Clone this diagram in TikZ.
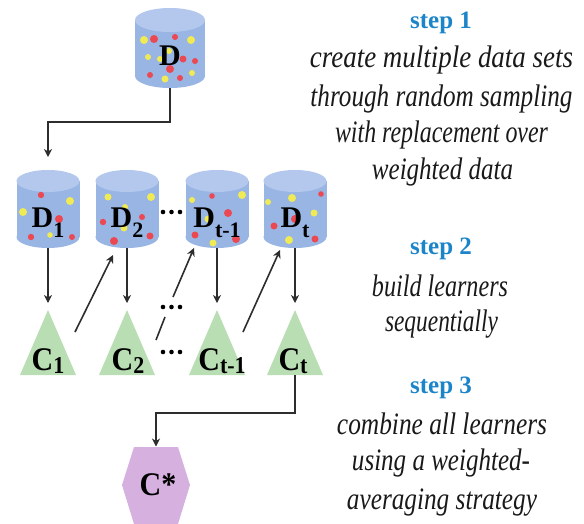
\documentclass[tikz,border=0pt]{standalone}
\usepackage{fontspec}
\setmainfont{Liberation Serif}
\usetikzlibrary{arrows.meta}

\definecolor{cylbody}{RGB}{152,181,228}
\definecolor{cyltop}{RGB}{180,200,237}
\definecolor{dotred}{RGB}{236,72,82}
\definecolor{dotyel}{RGB}{240,234,84}
\definecolor{learnerfill}{RGB}{186,222,180}
\definecolor{combofill}{RGB}{214,177,223}
\definecolor{stepblue}{RGB}{28,132,200}
\definecolor{wire}{RGB}{45,45,45}

\tikzset{
  flow/.style={draw=wire, line width=1.6pt, -{Stealth[length=8pt,width=8pt,inset=2.5pt]}},
  plainwire/.style={draw=wire, line width=1.6pt},
  anchorbox/.style={inner sep=0pt, outer sep=0pt, draw=none},
  dlabel/.style={anchor=base, inner sep=0pt, font=\fontsize{30}{30}\selectfont\bfseries},
  clabel/.style={anchor=base, inner sep=0pt, font=\fontsize{30}{30}\selectfont\bfseries},
  steptitle/.style={anchor=base, inner sep=0pt, text=stepblue, font=\fontsize{25}{25}\selectfont\bfseries},
  stepnote/.style={anchor=base, inner sep=0pt, text=black!90, font=\fontsize{26}{26}\selectfont\itshape},
}

\newcommand{\subD}[1]{\raisebox{-10pt}{\fontsize{22}{22}\selectfont #1}}
\newcommand{\subC}[1]{\raisebox{-3pt}{\fontsize{22}{22}\selectfont #1}}
% a line of description text set to a given width, drawn a little taller
\newcommand{\noteline}[2]{\scalebox{1}[1.2]{\resizebox{#1}{\height}{#2}}}
\newcommand{\tallC}[1]{\scalebox{1}[1.1]{#1}}

% data cylinder: name, centre x, top y, bottom y, x radius, y radius
\newcommand{\datacyl}[6]{%
  \fill[cylbody] ({#2-#5},{#3+#6}) rectangle ({#2+#5},{#4-#6});
  \fill[cylbody] (#2,{#4-#6}) ellipse [x radius=#5pt, y radius=#6pt];
  \fill[cyltop] (#2,{#3+#6}) ellipse [x radius=#5pt, y radius=#6pt];
  \node[anchorbox, minimum width={2*#5pt}, minimum height={(#4-#3)*1pt}] (#1) at (#2,{(#3+#4)/2}) {};
}

% learner triangle: name, centre x
\newcommand{\learnertri}[2]{%
  \fill[learnerfill] ({#2-28},375) -- (#2,310) -- ({#2+28},375) -- cycle;
  \coordinate (#1) at (#2,310);
  \coordinate (#1base) at (#2,375);
}

% coloured sample points: colour, list of x/y/radius
\newcommand{\speckles}[2]{%
  \foreach \px/\py/\pr in {#2} \fill[#1] (\px,\py) circle[radius=\pr];
}

% row of three ellipsis dots centred at a given y
\newcommand{\ellipsisrow}[1]{%
  \foreach \px in {163,171.5,180} \fill[black] (\px,#1) circle[radius=2.3pt];
}

\begin{document}
\begin{tikzpicture}[x=1pt, y=-1pt]
\useasboundingbox (0,0) rectangle (584,523);

% ---- data sets ----
\datacyl{d0}{170}{8}{88}{35}{12}
\datacyl{d1}{48}{170}{248}{31.5}{11}
\datacyl{d2}{127}{170}{248}{31.5}{11}
\datacyl{d3}{217}{170}{248}{31.5}{11}
\datacyl{d4}{295}{170}{248}{31.5}{11}

\speckles{dotyel}{144/40/4pt, 191/40/4pt, 148/57/3pt, 160/59/3pt, 169/51/3pt, 165/79/3.5pt, 192/73/3pt}
\speckles{dotred}{154/39/4pt, 175/37/3pt, 183/59/3.5pt, 195/61/3pt, 170/69/4pt, 150/75/3pt, 180/78/3pt}

\speckles{dotyel}{70/201/4pt, 23/212/4pt, 50/235/2.8pt}
\speckles{dotred}{41/195/3.2pt, 59/219/4pt, 31/237/3.2pt, 72/237/3pt}

\speckles{dotyel}{108/197/3.5pt, 151/197/4pt, 125/207/3pt, 124/228/3.5pt}
\speckles{dotred}{142/217/3pt, 103/222/3.2pt, 150/236/3.5pt, 114/241/4pt}

\speckles{dotyel}{192/200/3pt, 242/195/4pt, 208/219/3.5pt, 213/243/3.5pt}
\speckles{dotred}{212/196/2.8pt, 228/213/4pt, 195/235/3.5pt, 236/239/4pt}

\speckles{dotyel}{292/198/4pt, 268/202/3pt, 314/213/3.5pt, 289/240/4pt}
\speckles{dotred}{321/194/2.8pt, 295/219/4pt, 274/226/3.5pt, 315/239/3.5pt}

\node[dlabel] (d0lab) at (170,65) {D};
\node[dlabel] (d1lab) at (48,227) {D\subD{1}};
\node[dlabel] (d2lab) at (127,227) {D\subD{2}};
\node[dlabel] (d3lab) at (217,227) {D\subD{t-1}};
\node[dlabel] (d4lab) at (295,227) {D\subD{t}};

% ---- learners ----
\learnertri{c1}{48}
\learnertri{c2}{127}
\learnertri{c3}{217}
\learnertri{c4}{295}

\node[clabel] (c1lab) at (48,370) {\tallC{C\subC{1}}};
\node[clabel] (c2lab) at (128,370) {\tallC{C\subC{2}}};
\node[clabel] (c3lab) at (222,370) {\tallC{C\subC{t-1}}};
\node[clabel] (c4lab) at (293,370) {\tallC{C\subC{t}}};

% ---- combined learner ----
\fill[combofill] (134,447) -- (178,447) -- (190,485) -- (178,524) -- (134,524) -- (122,485) -- cycle;
\node[anchorbox, minimum width=68pt, minimum height=77pt] (cstar) at (156,485) {};
\node[dlabel] (cstarlab) at (158,495) {\tallC{C*}};

% ---- ellipses ----
\ellipsisrow{212}
\ellipsisrow{307}
\ellipsisrow{352}

% ---- connectors ----
\draw[flow, shorten >=13pt] (d0.south) -- ++(0,34) -| (d1.north);
\draw[flow, shorten >=7pt] (d1.south) -- (c1);
\draw[flow, shorten >=7pt] (d2.south) -- (c2);
\draw[flow, shorten >=7pt] (d3.south) -- (c3);
\draw[flow, shorten >=7pt] (d4.south) -- (c4);

\coordinate (up1s) at (75,332);
\coordinate (up1e) at (113,255);
\coordinate (up2s) at (156,340);
\coordinate (up2m) at (165,317);
\coordinate (up2r) at (173,297);
\coordinate (up2e) at (194,248);
\coordinate (up3s) at (243,332);
\coordinate (up3e) at (280,250);
\draw[flow] (up1s) -- (up1e);
\draw[plainwire] (up2s) -- (up2m);
\draw[flow] (up2r) -- (up2e);
\draw[flow] (up3s) -- (up3e);

\draw[flow] (c4base) -- ++(0,38) -| (cstar.north);

% ---- step descriptions ----
\node[steptitle] (s1) at (441,28) {step 1};
\node[stepnote] (s1a) at (441.5,67) {\noteline{263pt}{create multiple data sets}};
\node[stepnote] (s1b) at (441.5,106) {\noteline{262pt}{through random sampling}};
\node[stepnote] (s1c) at (441.5,142) {\noteline{213pt}{with replacement over}};
\node[stepnote] (s1d) at (442.5,179) {\noteline{141pt}{weighted data}};

\node[steptitle] (s2) at (441,254) {step 2};
\node[stepnote] (s2a) at (440,296) {\noteline{136pt}{build learners}};
\node[stepnote] (s2b) at (441.5,331) {\noteline{113pt}{sequentially}};

\node[steptitle] (s3) at (441,393) {step 3};
\node[stepnote] (s3a) at (442,434) {\noteline{210pt}{combine all learners}};
\node[stepnote] (s3b) at (441,470) {\noteline{178pt}{using a weighted-}};
\node[stepnote] (s3c) at (442,509) {\noteline{190pt}{averaging strategy}};
\end{tikzpicture}
\end{document}
